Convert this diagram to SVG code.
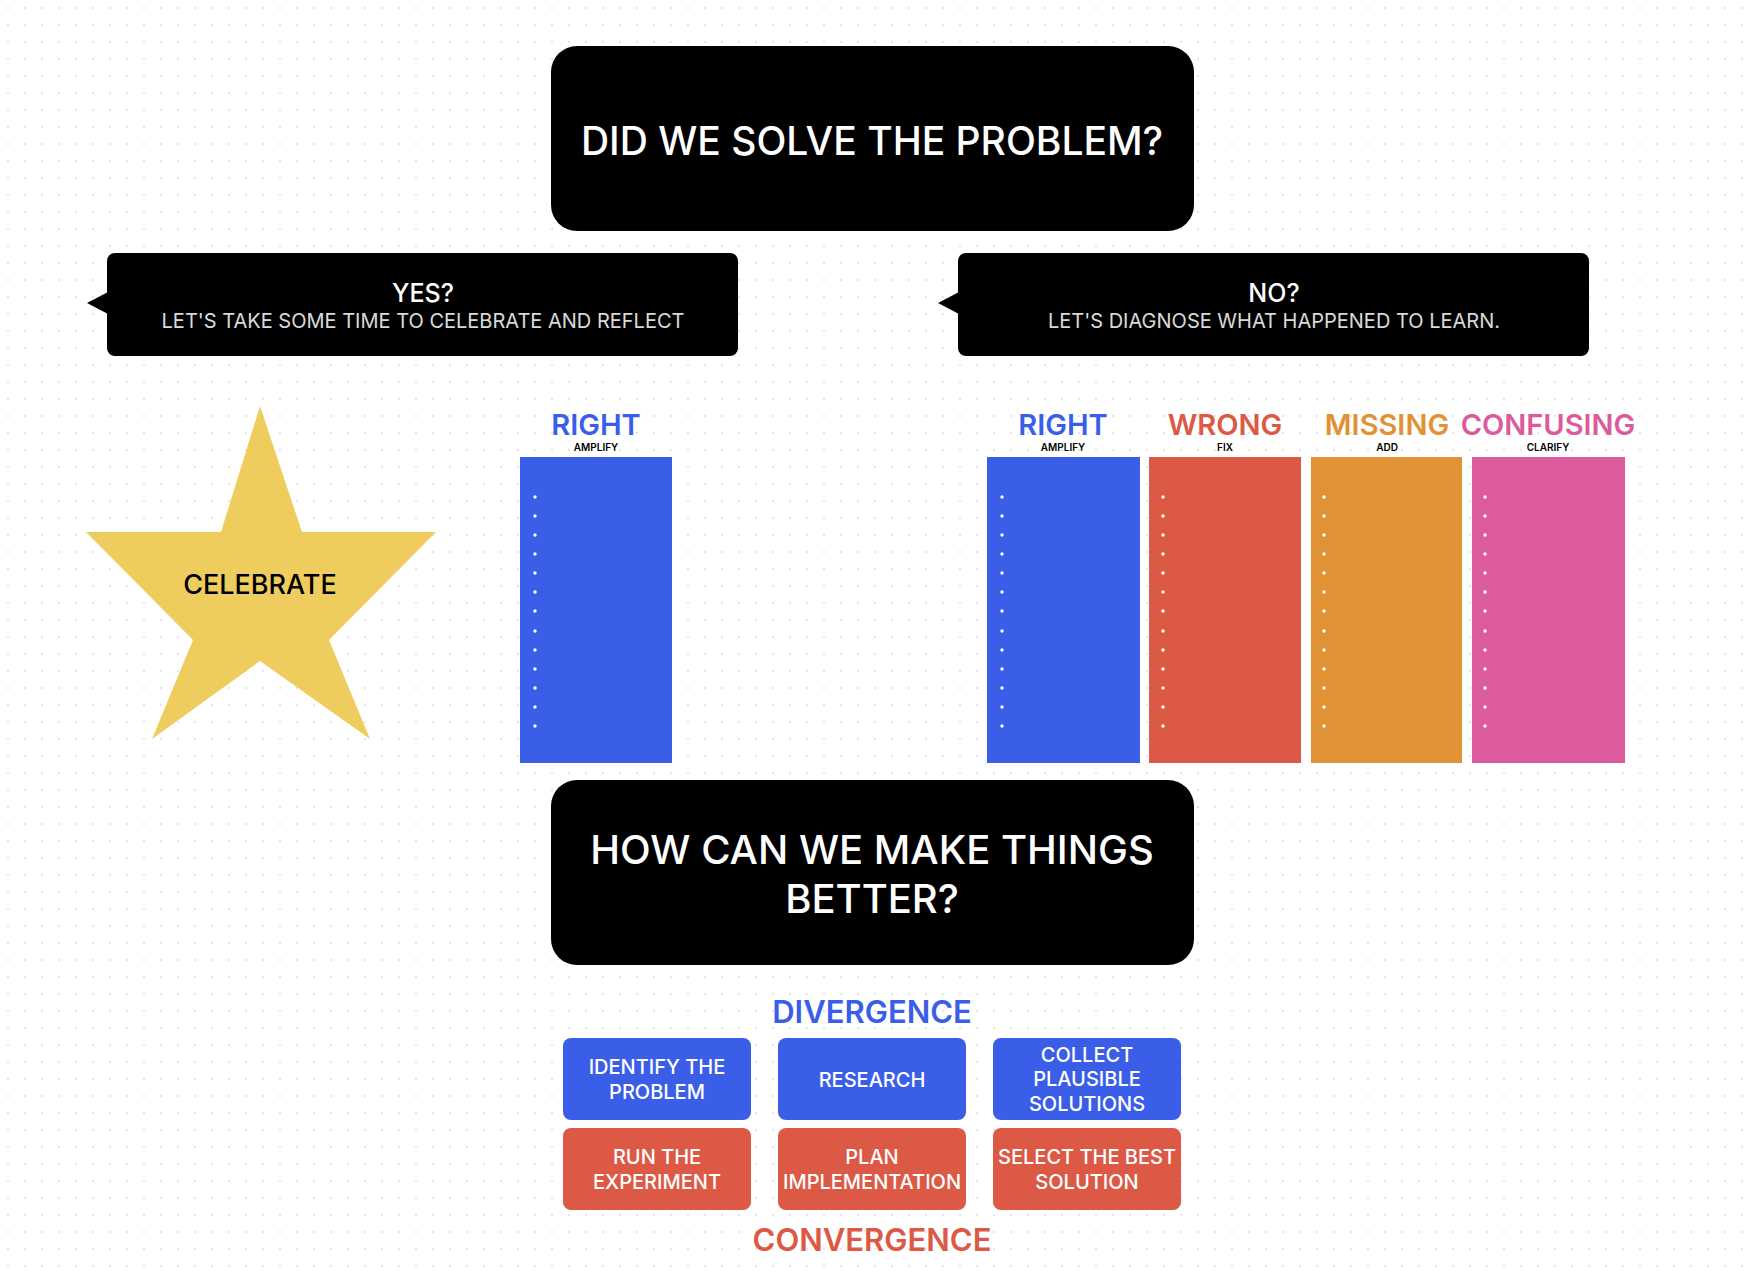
<svg xmlns="http://www.w3.org/2000/svg" width="1745" height="1280" viewBox="0 0 1745 1280">
<defs>
<pattern id="grid" width="17" height="17" patternUnits="userSpaceOnUse"><circle cx="8" cy="8" r="1" fill="#dcdcdc"/></pattern>
<pattern id="bul" width="20" height="19.1" patternUnits="userSpaceOnUse" x="0" y="486.5"><circle cx="16" cy="9.5" r="1.7" fill="#fff"/></pattern>
<style>
text{font-family:Inter,"Liberation Sans",sans-serif;text-anchor:middle;dominant-baseline:central}
.blk{fill:#000}
.w{fill:#fff;font-weight:500}
.sub{fill:#fff;font-size:20px;opacity:.85}
.h{font-size:29px;font-weight:600}
.s{font-size:10px;font-weight:600;fill:#000}
.btn{font-size:20px;font-weight:500;fill:#fff}
</style>
</defs>
<rect width="1745" height="1280" fill="#fff"/>
<rect width="1745" height="1280" fill="url(#grid)"/>
<g id="top"><rect class="blk" x="551" y="46" width="643" height="185" rx="26"/><text class="w" x="872" y="140" font-size="39">DID WE SOLVE THE PROBLEM?</text></g>
<g id="yes"><rect class="blk" x="107" y="253" width="631" height="103" rx="8"/><path class="blk" d="M87 303 L108 292 L108 314Z"/><text class="w" x="423" y="293" font-size="25">YES?</text><text class="sub" x="423" y="321">LET'S TAKE SOME TIME TO CELEBRATE AND REFLECT</text></g>
<g id="no"><rect class="blk" x="958" y="253" width="631" height="103" rx="8"/><path class="blk" d="M938 303 L959 292 L959 314Z"/><text class="w" x="1274" y="293" font-size="25">NO?</text><text class="sub" x="1274" y="321">LET'S DIAGNOSE WHAT HAPPENED TO LEARN.</text></g>
<g id="star"><path fill="#eecd5e" d="M260 406 L302 532 L436 532 L329 640 L370 739 L260 661 L152 739 L193 640 L86 532 L221 532Z"/><text x="260" y="584" font-size="27" font-weight="500" fill="#000">CELEBRATE</text></g>
<g id="col-right-yes"><text class="h" x="596" y="424" fill="#3a5ee8">RIGHT</text><text class="s" x="596" y="447">AMPLIFY</text><rect x="520" y="457" width="152" height="306" fill="#3a5ee8"/><rect x="520" y="486" width="152" height="249" fill="url(#bul)" transform="translate(520 0)" style="display:none"/></g>
<g id="col-right"><text class="h" x="1063" y="424" fill="#3a5ee8">RIGHT</text><text class="s" x="1063" y="447">AMPLIFY</text><rect x="987" y="457" width="153" height="306" fill="#3a5ee8"/></g>
<g id="col-wrong"><text class="h" x="1225" y="424" fill="#dc5945">WRONG</text><text class="s" x="1225" y="447">FIX</text><rect x="1149" y="457" width="152" height="306" fill="#dc5945"/></g>
<g id="col-missing"><text class="h" x="1387" y="424" fill="#e09235">MISSING</text><text class="s" x="1387" y="447">ADD</text><rect x="1311" y="457" width="151" height="306" fill="#e09235"/></g>
<g id="col-confusing"><text class="h" x="1548" y="424" fill="#dc5b9c">CONFUSING</text><text class="s" x="1548" y="447">CLARIFY</text><rect x="1472" y="457" width="153" height="306" fill="#dc5b9c"/></g>
<g id="bullets" fill="#fff">
<rect x="530" y="487" width="12" height="249" fill="url(#bul)" transform="translate(0 0)" style="display:none"/>
</g>
<g fill="#fff">
<g id="d1"><circle cx="535" cy="497" r="1.7"/><circle cx="535" cy="516" r="1.7"/><circle cx="535" cy="535" r="1.7"/><circle cx="535" cy="554" r="1.7"/><circle cx="535" cy="573" r="1.7"/><circle cx="535" cy="592" r="1.7"/><circle cx="535" cy="611" r="1.7"/><circle cx="535" cy="631" r="1.7"/><circle cx="535" cy="650" r="1.7"/><circle cx="535" cy="669" r="1.7"/><circle cx="535" cy="688" r="1.7"/><circle cx="535" cy="707" r="1.7"/><circle cx="535" cy="726" r="1.7"/></g>
<use href="#d1" x="467"/><use href="#d1" x="628"/><use href="#d1" x="789"/><use href="#d1" x="950"/>
</g>
<g id="bottom"><rect class="blk" x="551" y="780" width="643" height="185" rx="26"/><text class="w" x="872" y="849" font-size="40">HOW CAN WE MAKE THINGS</text><text class="w" x="872" y="898" font-size="40">BETTER?</text></g>
<text x="872" y="1011" font-size="31" font-weight="600" fill="#3a5ee8">DIVERGENCE</text>
<text x="872" y="1239" font-size="31" font-weight="600" fill="#dc5945">CONVERGENCE</text>
<g id="b1"><rect x="563" y="1038" width="188" height="82" rx="8" fill="#3a5ee8"/><text class="btn" x="657" y="1067">IDENTIFY THE</text><text class="btn" x="657" y="1092">PROBLEM</text></g>
<g id="b2"><rect x="778" y="1038" width="188" height="82" rx="8" fill="#3a5ee8"/><text class="btn" x="872" y="1080">RESEARCH</text></g>
<g id="b3"><rect x="993" y="1038" width="188" height="82" rx="8" fill="#3a5ee8"/><text class="btn" x="1087" y="1055">COLLECT</text><text class="btn" x="1087" y="1079">PLAUSIBLE</text><text class="btn" x="1087" y="1104">SOLUTIONS</text></g>
<g id="b4"><rect x="563" y="1128" width="188" height="82" rx="8" fill="#dc5945"/><text class="btn" x="657" y="1157">RUN THE</text><text class="btn" x="657" y="1182">EXPERIMENT</text></g>
<g id="b5"><rect x="778" y="1128" width="188" height="82" rx="8" fill="#dc5945"/><text class="btn" x="872" y="1157">PLAN</text><text class="btn" x="872" y="1182">IMPLEMENTATION</text></g>
<g id="b6"><rect x="993" y="1128" width="188" height="82" rx="8" fill="#dc5945"/><text class="btn" x="1087" y="1157">SELECT THE BEST</text><text class="btn" x="1087" y="1182">SOLUTION</text></g>
<g id="connectors"></g>
</svg>
